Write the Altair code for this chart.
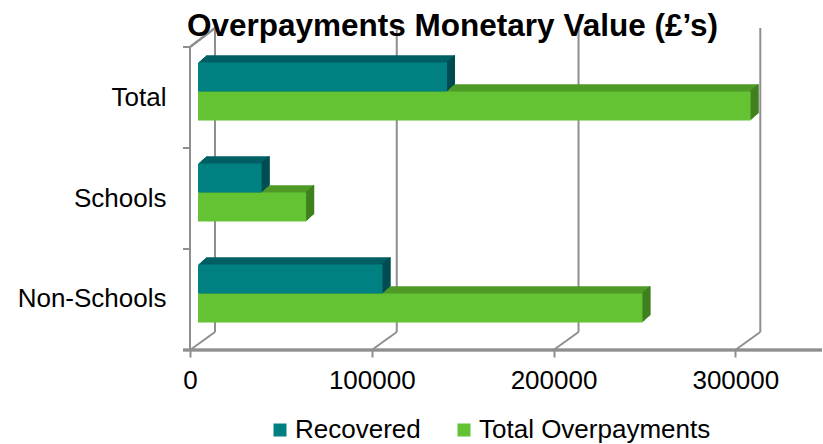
import altair as alt
import pandas as pd

# ---- data ----
categories = ["Total", "Schools", "Non-Schools"]
series = ["Recovered", "Total Overpayments"]
recovered = [137000, 35000, 101500]
total_overpayments = [304000, 59500, 244500]
tick_values = [0, 100000, 200000, 300000]

rows = []
for i, c in enumerate(categories):
    rows.append({"category": c, "series": series[0], "value": recovered[i]})
    rows.append({"category": c, "series": series[1], "value": total_overpayments[i]})
df = pd.DataFrame(rows)
ticks_df = pd.DataFrame({"t": tick_values})

# ---- styling ----
FONT = "Liberation Sans"
GRAY = "#8f8f8f"
W, H = 618, 303
XMAX = 340000
front_colors = ["#008080", "#63c332"]
top_colors = {"Recovered": "#005f63", "Total Overpayments": "#4f9a27"}
side_colors = {"Recovered": "#004b4f", "Total Overpayments": "#3f7f1f"}
BAR_H = 29
series_shift = {"Recovered": -BAR_H / 2, "Total Overpayments": BAR_H / 2}
NSTEP = 8
DX, DY = 1.0, 0.91

x_scale = alt.Scale(domain=[0, XMAX], nice=False, zero=True)
y_scale = alt.Scale(domain=categories, paddingInner=0.4257, paddingOuter=0.2129)

x_axis = alt.Axis(values=tick_values, format="d", title=None, grid=False, domain=False,
                  offset=6, tickOffset=-8, tickSize=7, tickWidth=2, tickColor=GRAY,
                  labelFlush=False, labelFont=FONT, labelFontSize=26, labelColor="#000000",
                  labelPadding=10)
y_axis = alt.Axis(title=None, ticks=False, tickSize=0, domain=False, grid=False, offset=8,
                  labelOffset=6, labelPadding=24, labelFont=FONT, labelFontSize=26,
                  labelColor="#000000")


def xq(field="value"):
    return alt.X(f"{field}:Q", scale=x_scale, axis=x_axis)


def yc():
    return alt.Y("category:N", scale=y_scale, axis=y_axis, sort=categories)


layers = []

# back wall gridlines
layers.append(alt.Chart(ticks_df).mark_rule(color=GRAY, strokeWidth=2, xOffset=17).encode(
    x=xq("t"), y=alt.value(-13), y2=alt.value(291)))
# floor diagonals
layers.append(alt.Chart(ticks_df).mark_rule(color=GRAY, strokeWidth=2, xOffset=-8, x2Offset=17).encode(
    x=xq("t"), x2="t:Q", y=alt.value(309), y2=alt.value(291)))
# left front wall line + top diagonal
layers.append(alt.Chart(ticks_df).mark_rule(color=GRAY, strokeWidth=2).encode(
    x=alt.value(-8), y=alt.value(6), y2=alt.value(309)))
layers.append(alt.Chart(ticks_df).mark_rule(color=GRAY, strokeWidth=2).encode(
    x=alt.value(-8), x2=alt.value(17), y=alt.value(6), y2=alt.value(-13)))
# front floor axis line
layers.append(alt.Chart(ticks_df).mark_rule(color=GRAY, strokeWidth=2.5).encode(
    x=alt.value(-15), x2=alt.value(624), y=alt.value(309)))
# category ticks on the front wall
for ypx in [6, 107, 208, 309]:
    layers.append(alt.Chart(ticks_df).mark_rule(color=GRAY, strokeWidth=2).encode(
        x=alt.value(-15), x2=alt.value(-8), y=alt.value(ypx)))

# 3D bars: draw lower series first, then upper series
for s in reversed(series):
    base = alt.Chart(df).transform_filter(alt.datum.series == s)
    sh = series_shift[s]
    # depth body (top face colour)
    for k in range(NSTEP, 0, -1):
        layers.append(base.mark_bar(color=top_colors[s], height=BAR_H,
                                    xOffset=k * DX, x2Offset=k * DX,
                                    yOffset=sh - k * DY).encode(x=xq(), y=yc()))
    # side face columns
    for k in range(1, NSTEP + 1):
        layers.append(base.mark_bar(color=side_colors[s], height=BAR_H,
                                    xOffset=(k - 1) * DX - 0.3, x2Offset=k * DX,
                                    yOffset=sh - k * DY).encode(
            x=xq(), x2="value:Q", y=yc()))
    # front face
    layers.append(base.mark_bar(height=BAR_H, yOffset=sh).encode(
        x=xq(), y=yc(),
        color=alt.Color("series:N", scale=alt.Scale(domain=series, range=front_colors),
                        legend=alt.Legend(title=None, orient="none", legendX=69, legendY=376,
                                          direction="horizontal", symbolType="square",
                                          symbolSize=169, symbolStrokeWidth=0, symbolOpacity=1,
                                          labelFont=FONT, labelFontSize=26, labelColor="#000000",
                                          labelOffset=2, columnPadding=30, labelLimit=400))))

chart = alt.layer(*layers).properties(
    width=W, height=H,
    autosize=alt.AutoSizeParams(type="none"),
    padding={"left": 198, "top": 41, "right": 7, "bottom": 100},
    title=alt.Title("Overpayments Monetary Value (£’s)", anchor="start", frame="group", dx=-11,
                    dy=48, offset=8, baseline="alphabetic", font=FONT, fontSize=31.5,
                    fontWeight="bold", color="#000000"),
).configure_view(stroke=None)

chart.save("out.html", embed_options={"renderer": "svg", "actions": False})
